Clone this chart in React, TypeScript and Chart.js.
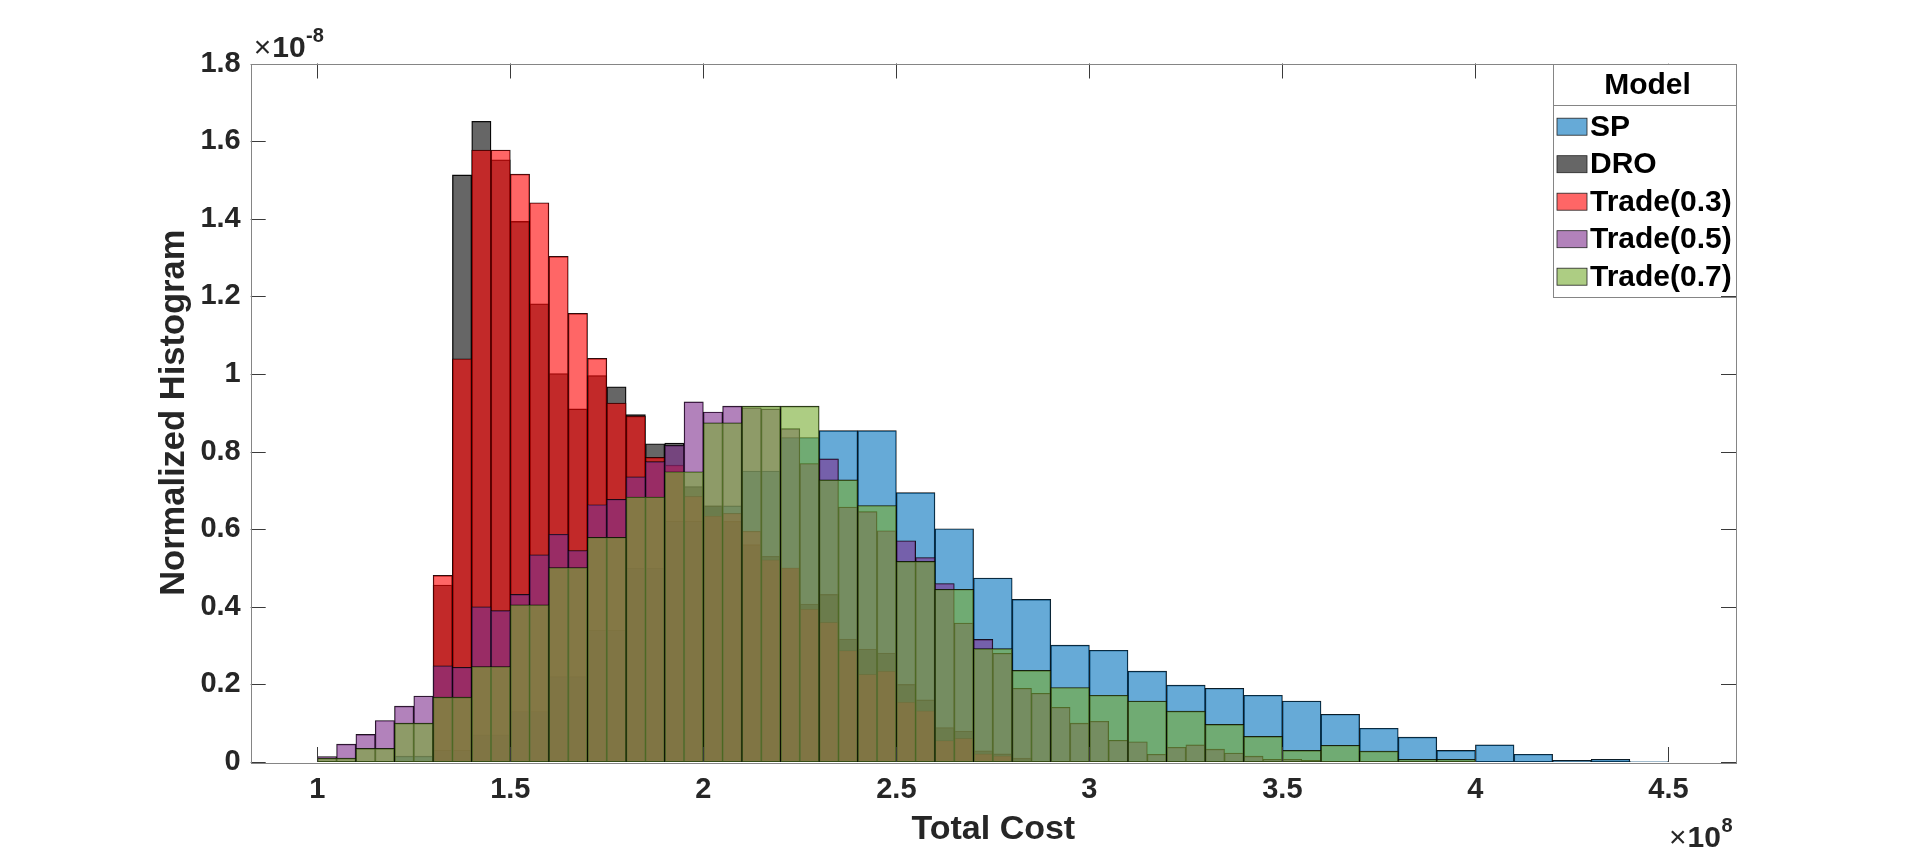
import React, { useEffect, useRef } from 'react';
import { Chart, registerables } from 'chart.js';

Chart.register(...registerables);

// ---------- data (values in units of 1e-8, x in units of 1e8) ----------
const seriesNames = ['SP', 'DRO', 'Trade(0.3)', 'Trade(0.5)', 'Trade(0.7)'];

const spBinStart = 1.2;
const spBinWidth = 0.1;
const spValues = [
  0.015, 0.03, 0.07, 0.13, 0.22, 0.34, 0.5, 0.62, 0.66, 0.75, 0.836,
  0.854, 0.854, 0.694, 0.601, 0.474, 0.419, 0.301, 0.288, 0.234, 0.198,
  0.19, 0.172, 0.157, 0.123, 0.087, 0.064, 0.03, 0.044, 0.02, 0.004, 0.007, 0.001,
];

const droBinStart = 1.3;
const droBinWidth = 0.05;
const droValues = [
  0.456, 1.513, 1.651, 1.552, 1.393, 1.181, 1.001, 0.91, 0.996, 0.967,
  0.895, 0.82, 0.822, 0.71, 0.66, 0.62, 0.56, 0.53, 0.5, 0.407,
  0.432, 0.317, 0.291, 0.281, 0.2, 0.16, 0.089, 0.08, 0.029, 0.021, 0.01,
];

const t03BinStart = 1.3;
const t03BinWidth = 0.05;
const t03Values = [
  0.481, 1.039, 1.577, 1.577, 1.515, 1.441, 1.303, 1.156, 1.04, 0.925,
  0.891, 0.785, 0.765, 0.685, 0.634, 0.641, 0.595, 0.521, 0.5, 0.394,
  0.36, 0.287, 0.226, 0.234, 0.154, 0.132, 0.055, 0.061, 0.021, 0.016,
];

const t05BinStart = 1.0;
const t05BinWidth = 0.05;
const t05Values = [
  0.014, 0.046, 0.071, 0.107, 0.144, 0.17, 0.248, 0.244, 0.4, 0.39,
  0.432, 0.534, 0.587, 0.545, 0.663, 0.677, 0.735, 0.774, 0.816, 0.928,
  0.902, 0.917, 0.913, 0.91, 0.859, 0.769, 0.781, 0.657, 0.645, 0.596,
  0.57, 0.527, 0.46, 0.358, 0.316, 0.28, 0.19, 0.177, 0.141, 0.1,
  0.105, 0.056, 0.052, 0.02, 0.038, 0.044, 0.033, 0.023, 0.015, 0.007,
  0.007, 0.004,
];

const t07BinStart = 1.0;
const t07BinWidth = 0.1;
const t07Values = [
  0.01, 0.035, 0.1, 0.167, 0.246, 0.405, 0.501, 0.579, 0.683, 0.748,
  0.874, 0.917, 0.917, 0.727, 0.661, 0.517, 0.445, 0.292, 0.236, 0.192,
  0.172, 0.157, 0.131, 0.097, 0.066, 0.03, 0.043, 0.028, 0.007, 0.007,
];

const xTickValues = [1, 1.5, 2, 2.5, 3, 3.5, 4, 4.5];
const yTickValues = [0, 0.2, 0.4, 0.6, 0.8, 1, 1.2, 1.4, 1.6, 1.8];

const X_MIN = 0.8275;
const X_MAX = 4.675;
const Y_MIN = 0;
const Y_MAX = 1.8;

// MATLAB default colours, face alpha 0.6
const seriesColors = [
  'rgba(0,114,189,0.6)',
  'rgba(0,0,0,0.6)',
  'rgba(255,0,0,0.6)',
  'rgba(126,47,142,0.6)',
  'rgba(119,172,48,0.6)',
];

const FONT = "'Liberation Sans', Arial, Helvetica, sans-serif";
const TEXT_COLOR = '#262626';

function toBins(start: number, width: number, values: number[]) {
  return values.map((v, i) => ({ x: Number((start + (i + 0.5) * width).toFixed(4)), y: v }));
}

function drawExponent(ctx: CanvasRenderingContext2D, x: number, baseline: number, exp: string) {
  ctx.font = `normal 30px ${FONT}`;
  ctx.fillText('\u00d7', x, baseline);
  let cx = x + ctx.measureText('\u00d7').width + 1;
  ctx.font = `bold 30px ${FONT}`;
  ctx.fillText('10', cx, baseline);
  cx += ctx.measureText('10').width + 0.5;
  ctx.font = `bold 20px ${FONT}`;
  ctx.fillText(exp, cx, baseline - 15);
}

const decorPlugin = {
  id: 'matlabDecor',
  afterDatasetsDraw(chart: any) {
    const { ctx, chartArea } = chart;
    const { left, right, top, bottom } = chartArea;
    const xs = chart.scales.x;
    const ys = chart.scales.y;
    const tickLen = 15;
    ctx.save();
    // inward ticks
    ctx.strokeStyle = '#3a3a3a';
    ctx.lineWidth = 1;
    ctx.beginPath();
    xTickValues.forEach((v) => {
      const px = Math.round(xs.getPixelForValue(v)) + 0.5;
      ctx.moveTo(px, bottom);
      ctx.lineTo(px, bottom - tickLen);
      ctx.moveTo(px, top);
      ctx.lineTo(px, top + tickLen);
    });
    yTickValues.forEach((v) => {
      const py = Math.round(ys.getPixelForValue(v)) + 0.5;
      ctx.moveTo(left, py);
      ctx.lineTo(left + tickLen, py);
      ctx.moveTo(right, py);
      ctx.lineTo(right - tickLen, py);
    });
    ctx.stroke();
    // box
    ctx.strokeStyle = '#858585';
    ctx.lineWidth = 1;
    ctx.strokeRect(Math.round(left) + 0.5, Math.round(top) + 0.5, Math.round(right - left), Math.round(bottom - top));

    // exponent labels
    ctx.fillStyle = TEXT_COLOR;
    ctx.textBaseline = 'alphabetic';
    ctx.textAlign = 'left';
    drawExponent(ctx, left + 3, 57, '-8');
    drawExponent(ctx, 1669, 847, '8');

    // legend
    const lx = 1553;
    const lr = right;
    const lt = top;
    const lb = 296;
    ctx.fillStyle = '#ffffff';
    ctx.fillRect(lx, lt, lr - lx, lb - lt);
    ctx.strokeStyle = '#858585';
    ctx.lineWidth = 1;
    ctx.strokeRect(lx + 0.5, Math.round(lt) + 0.5, Math.round(lr - lx), Math.round(lb - lt));
    ctx.beginPath();
    ctx.moveTo(lx, 105.5);
    ctx.lineTo(lr, 105.5);
    ctx.stroke();
    ctx.fillStyle = '#000000';
    ctx.textAlign = 'center';
    ctx.textBaseline = 'middle';
    ctx.font = `bold 30px ${FONT}`;
    ctx.fillText('Model', (lx + lr) / 2 + 3, 86);
    ctx.textAlign = 'left';
    seriesNames.forEach((name, i) => {
      const cy = 126.7 + i * 37.5;
      ctx.fillStyle = seriesColors[i];
      ctx.fillRect(1557, cy - 8.5, 30, 17);
      ctx.strokeStyle = '#222';
      ctx.lineWidth = 0.8;
      ctx.strokeRect(1557, cy - 8.5, 30, 17);
      ctx.fillStyle = '#000000';
      ctx.fillText(name, 1590, cy + 1);
    });
    ctx.restore();
  },
};

export default function App() {
  const canvasRef = useRef<HTMLCanvasElement | null>(null);

  useEffect(() => {
    if (!canvasRef.current) return;
    const binSets = [
      { data: toBins(spBinStart, spBinWidth, spValues), axis: 'x2', order: 5 },
      { data: toBins(droBinStart, droBinWidth, droValues), axis: 'x', order: 4 },
      { data: toBins(t03BinStart, t03BinWidth, t03Values), axis: 'x', order: 3 },
      { data: toBins(t05BinStart, t05BinWidth, t05Values), axis: 'x', order: 2 },
      { data: toBins(t07BinStart, t07BinWidth, t07Values), axis: 'x2', order: 1 },
    ];
    const chart = new Chart(canvasRef.current, {
      type: 'bar',
      data: {
        datasets: binSets.map((s, i) => ({
          label: seriesNames[i],
          data: s.data,
          xAxisID: s.axis,
          yAxisID: 'y',
          order: s.order,
          backgroundColor: seriesColors[i],
          borderColor: 'rgba(0,0,0,0.95)',
          borderWidth: 0.7,
          borderSkipped: false,
          grouped: false,
          barPercentage: 1,
          categoryPercentage: 1,
        })) as any,
      },
      options: {
        animation: false,
        responsive: true,
        maintainAspectRatio: false,
        layout: { padding: { left: 0, right: 184, top: 63.5, bottom: 0 } },
        plugins: { legend: { display: false }, tooltip: { enabled: false } },
        scales: {
          x: {
            type: 'linear',
            position: 'bottom',
            min: X_MIN,
            max: X_MAX,
            offset: false,
            grid: { display: false, drawTicks: false },
            border: { display: false },
            ticks: {
              color: TEXT_COLOR,
              font: { family: FONT, size: 29, weight: 'bold' },
              padding: 11,
              maxRotation: 0,
              autoSkip: false,
              callback: (v: any) => String(Number(Number(v).toFixed(2))),
            },
            afterBuildTicks: (s: any) => {
              s.ticks = xTickValues.map((v) => ({ value: v }));
            },
            afterFit: (s: any) => {
              s.height = 94;
            },
            title: {
              display: true,
              text: 'Total Cost',
              color: TEXT_COLOR,
              font: { family: FONT, size: 34, weight: 'bold' },
              padding: { top: 0, bottom: 5.6 },
            },
          },
          x2: {
            type: 'linear',
            display: false,
            min: X_MIN,
            max: X_MAX,
            offset: false,
            ticks: { stepSize: 0.5 },
          },
          y: {
            type: 'linear',
            min: Y_MIN,
            max: Y_MAX,
            grid: { display: false, drawTicks: false },
            border: { display: false },
            ticks: {
              color: TEXT_COLOR,
              font: { family: FONT, size: 29, weight: 'bold' },
              padding: 10,
              callback: (v: any) => String(Number(Number(v).toFixed(1))),
            },
            afterBuildTicks: (s: any) => {
              s.ticks = yTickValues.map((v) => ({ value: v }));
            },
            afterFit: (s: any) => {
              s.width = 250.7;
            },
            title: {
              display: true,
              text: 'Normalized Histogram',
              color: TEXT_COLOR,
              font: { family: FONT, size: 34.5, weight: 'bold' },
              padding: { top: 154, bottom: 0 },
            },
          },
        },
      } as any,
      plugins: [decorPlugin],
    });
    return () => chart.destroy();
  }, []);

  return (
    <div style={{ position: 'absolute', left: 0, top: 0, width: 1920, height: 856, background: '#fff' }}>
      <canvas ref={canvasRef} />
    </div>
  );
}
